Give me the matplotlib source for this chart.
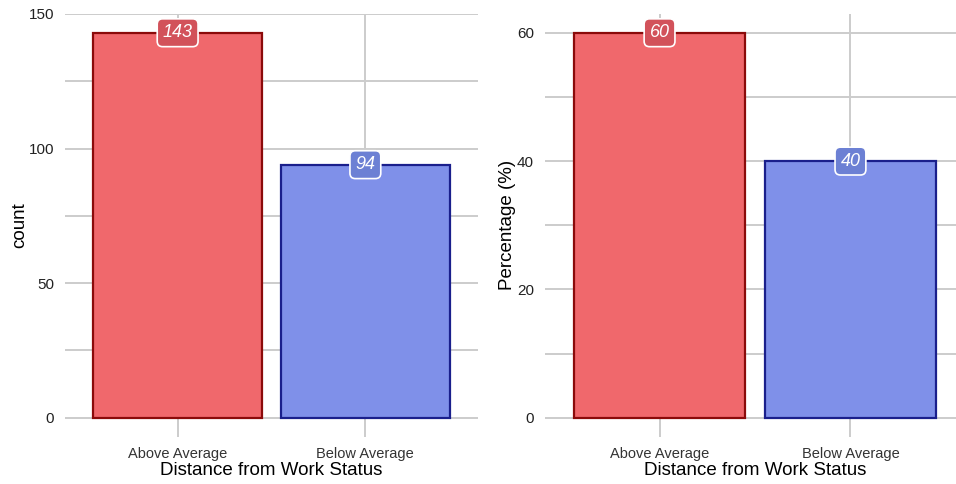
import matplotlib
matplotlib.use('Agg')
import matplotlib.pyplot as plt
from matplotlib.ticker import MultipleLocator

# data
categories = ['Above Average', 'Below Average']
counts = [143, 94]
percents = [60, 40]

fill_colors = ['#F0686C', '#7F90E9']
edge_colors = ['#8B0A0A', '#1A1F8C']
label_colors = ['#D2525A', '#6C80D4']

plt.rcParams['font.family'] = ['Liberation Sans', 'DejaVu Sans']

fig = plt.figure(figsize=(9.56, 4.84), dpi=100)
ax1 = fig.add_axes([65 / 956, 1 - 437 / 484, 413 / 956, 423.5 / 484])
ax2 = fig.add_axes([545 / 956, 1 - 437 / 484, 420 / 956, 423.5 / 484])


def draw_panel(ax, values, ylabel, major, minor, label_x):
    x = list(range(len(categories)))
    ax.bar(x, values, width=0.9, color=fill_colors, edgecolor=edge_colors,
           linewidth=1.6, zorder=2)
    for xi, v, c in zip(x, values, label_colors):
        ax.text(xi, v, '{}'.format(v), ha='center', va='center', color='white',
                fontsize=13, style='italic', zorder=4,
                bbox=dict(boxstyle='round,pad=0.3,rounding_size=0.3',
                          facecolor=c, edgecolor='white', linewidth=1.2))
    top = max(values)
    ax.set_ylim(-0.05 * top, 1.05 * top)
    ax.set_xlim(-0.6, len(categories) - 0.4)
    ax.set_xticks(x)
    ax.set_xticklabels(categories, fontsize=10.5, color='#333333')
    ax.yaxis.set_major_locator(MultipleLocator(major))
    ax.yaxis.set_minor_locator(MultipleLocator(minor))
    ax.tick_params(axis='both', length=0, pad=7)
    ax.tick_params(axis='y', labelsize=11, colors='#222222', pad=8)
    ax.tick_params(axis='y', which='minor', length=0)
    ax.grid(True, which='both', axis='y', color='#CCCCCC', linewidth=1.4, zorder=0)
    ax.grid(True, which='major', axis='x', color='#CCCCCC', linewidth=1.4, zorder=0)
    ax.set_axisbelow(True)
    for s in ax.spines.values():
        s.set_visible(False)
    ax.set_xlabel('Distance from Work Status', fontsize=13.5, labelpad=1)
    ax.set_ylabel(ylabel, fontsize=13.5)
    ax.yaxis.set_label_coords(label_x, 0.5)


draw_panel(ax1, counts, 'count', 50, 25, -0.088)
draw_panel(ax2, percents, 'Percentage (%)', 20, 10, -0.068)

fig.savefig('out.png', dpi=100)
